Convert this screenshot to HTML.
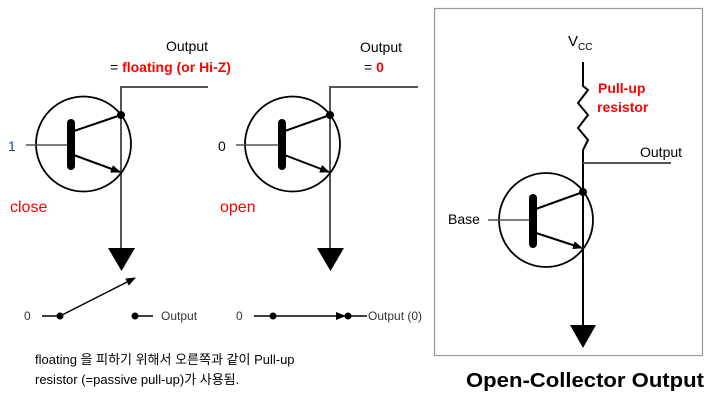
<!DOCTYPE html>
<html><head><meta charset="utf-8"><style>
html,body{margin:0;padding:0;background:#fff;}
svg{display:block;font-family:"Liberation Sans","Noto Sans CJK KR",sans-serif;}
</style></head><body>
<svg width="723" height="408" viewBox="0 0 723 408" xmlns="http://www.w3.org/2000/svg">
<defs>
<marker id="ah" markerWidth="10" markerHeight="8" refX="9" refY="4" orient="auto" markerUnits="userSpaceOnUse"><path d="M0,0 L10,4 L0,8 Z" fill="#000"/></marker>
</defs>
<g>
<text x="208" y="51" font-size="14" text-anchor="end" fill="#000">Output</text>
<text x="110" y="72" font-size="14" fill="#000">= <tspan fill="#f00" font-weight="bold">floating (or Hi-Z)</tspan></text>
<polyline points="208,87 121,87 121,248" fill="none" stroke="#555" stroke-width="2"/>
<circle cx="83.5" cy="144" r="47.5" fill="none" stroke="#000" stroke-width="1.8"/>
<line x1="26" y1="145" x2="71" y2="145" stroke="#555" stroke-width="1.5"/>
<line x1="71" y1="123" x2="71" y2="166" stroke="#000" stroke-width="8" stroke-linecap="round"/>
<line x1="71" y1="132" x2="121" y2="115" stroke="#000" stroke-width="2"/>
<circle cx="121" cy="115" r="4" fill="#000"/>
<line x1="71" y1="154" x2="120" y2="172" stroke="#000" stroke-width="2" marker-end="url(#ah)"/>
<text x="8" y="151" font-size="14" fill="#1a4a8a">1</text>
<text x="10" y="212" font-size="16" fill="#f00">close</text>
<path d="M108,248 L135,248 L121.5,271 Z" fill="#000"/>
<text x="24" y="320" font-size="12" fill="#333">0</text>
<line x1="42" y1="316" x2="60" y2="316" stroke="#000" stroke-width="1.5"/>
<circle cx="60" cy="316" r="3.5" fill="#000"/>
<line x1="60" y1="316" x2="135" y2="278" stroke="#000" stroke-width="1.5" marker-end="url(#ah)"/>
<circle cx="135" cy="316" r="3.5" fill="#000"/>
<line x1="135" y1="316" x2="153" y2="316" stroke="#000" stroke-width="1.5"/>
<text x="161" y="320" font-size="12" fill="#333">Output</text>
</g>
<g>
<text x="402" y="52" font-size="14" text-anchor="end" fill="#000">Output</text>
<text x="364" y="72" font-size="14" fill="#000">= <tspan fill="#f00" font-weight="bold">0</tspan></text>
<polyline points="418,87 330,87 330,248" fill="none" stroke="#555" stroke-width="2"/>
<circle cx="292.5" cy="144" r="47.5" fill="none" stroke="#000" stroke-width="1.8"/>
<line x1="236" y1="145" x2="282" y2="145" stroke="#555" stroke-width="1.5"/>
<line x1="282" y1="123" x2="282" y2="166" stroke="#000" stroke-width="8" stroke-linecap="round"/>
<line x1="282" y1="132" x2="330" y2="115" stroke="#000" stroke-width="2"/>
<circle cx="330" cy="115" r="4" fill="#000"/>
<line x1="282" y1="154" x2="329" y2="172" stroke="#000" stroke-width="2" marker-end="url(#ah)"/>
<text x="218" y="151" font-size="14" fill="#000">0</text>
<text x="220" y="212" font-size="16" fill="#f00">open</text>
<path d="M317,248 L344,248 L330.5,271 Z" fill="#000"/>
<text x="236" y="320" font-size="12" fill="#333">0</text>
<line x1="254" y1="316" x2="273" y2="316" stroke="#000" stroke-width="1.5"/>
<circle cx="273" cy="316" r="3.5" fill="#000"/>
<line x1="273" y1="316" x2="345" y2="316" stroke="#000" stroke-width="1.5" marker-end="url(#ah)"/>
<circle cx="348" cy="316" r="3.5" fill="#000"/>
<line x1="348" y1="316" x2="367" y2="316" stroke="#000" stroke-width="1.5"/>
<text x="368" y="320" font-size="12" fill="#333">Output (0)</text>
</g>
<text x="35" y="364" font-size="13" fill="#000">floating 을 피하기 위해서 오른쪽과 같이 Pull-up</text>
<text x="35" y="384" font-size="13" fill="#000">resistor (=passive pull-up)가 사용됨.</text>
<rect x="434.5" y="8.5" width="268" height="347" fill="none" stroke="#999" stroke-width="1.2"/>
<text x="568" y="46" font-size="15" fill="#000">V<tspan font-size="10" dy="4">CC</tspan></text>
<polyline points="583,62 583,86 588,90 578,103 588,115 578,128 588,140 583,150 583,325" fill="none" stroke="#000" stroke-width="2"/>
<line x1="583" y1="163" x2="671" y2="163" stroke="#555" stroke-width="2"/>
<text x="598" y="93" font-size="14" font-weight="bold" fill="#f00">Pull-up</text>
<text x="597" y="112" font-size="14" font-weight="bold" fill="#f00">resistor</text>
<text x="640" y="157" font-size="14" fill="#000">Output</text>
<circle cx="546" cy="220" r="47" fill="none" stroke="#000" stroke-width="1.8"/>
<line x1="488" y1="220" x2="533" y2="220" stroke="#555" stroke-width="1.5"/>
<line x1="533" y1="198" x2="533" y2="244" stroke="#000" stroke-width="8" stroke-linecap="round"/>
<line x1="533" y1="210" x2="583" y2="192" stroke="#000" stroke-width="2"/>
<circle cx="583" cy="192" r="4" fill="#000"/>
<line x1="533" y1="232" x2="582" y2="248" stroke="#000" stroke-width="2" marker-end="url(#ah)"/>
<text x="448" y="224" font-size="14" fill="#000">Base</text>
<path d="M570,325 L596,325 L583,348 Z" fill="#000"/>
<text x="466" y="387" font-size="20" font-weight="bold" fill="#000" textLength="238" lengthAdjust="spacingAndGlyphs">Open-Collector Output</text>
</svg>
</body></html>
